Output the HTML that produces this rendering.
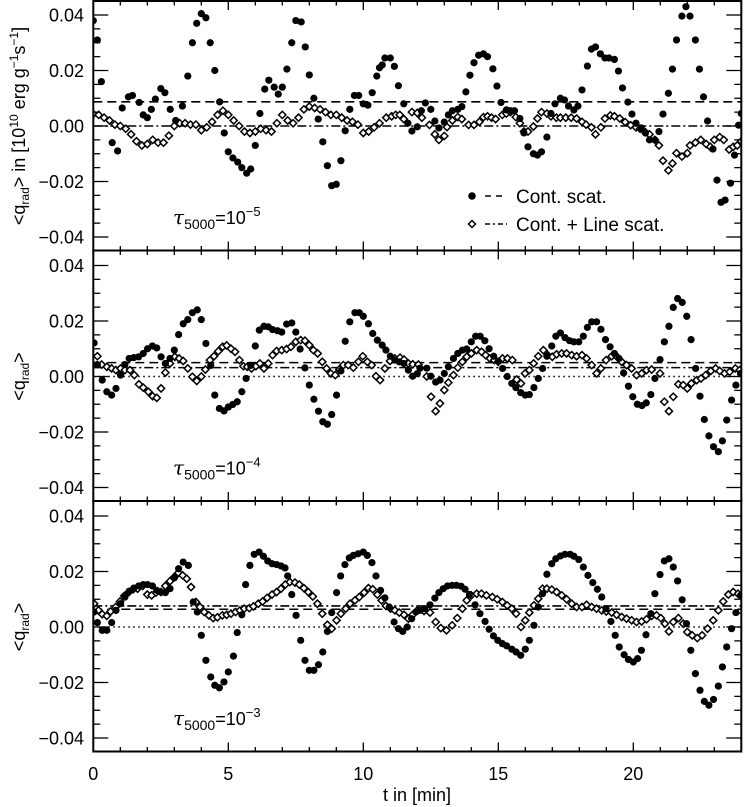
<!DOCTYPE html>
<html><head><meta charset="utf-8"><style>
html,body{margin:0;padding:0;background:#fff;}
svg{display:block;font-family:"Liberation Sans",sans-serif;}
</style></head><body>
<svg id="chart" width="747" height="807" viewBox="0 0 747 807" xmlns="http://www.w3.org/2000/svg"></svg>
<script>
// ---------- data (values in units of 1e-3 of 10^10 erg g^-1 s^-1) ----------
const xTicks = [0,5,10,15,20];
const yTicks = [0.04,0.02,0.00,-0.02,-0.04];
const yTickLabels = ["0.04","0.02","0.00","\u22120.02","\u22120.04"];
const tauExponents = ["-5","-4","-3"];

const p1DotT = [0,.15,.3,.7,.9,1.07,1.3,1.45,1.7,1.85,2.0,2.15,2.3,2.5,2.65,2.85,3.05,3.3,3.5,3.67,3.83,4.0,4.17,4.33,4.5,4.68,4.85,5.0,5.17,5.35,5.5,5.68,5.83,6.0,6.17,6.35,6.5,6.7,6.85,7.0,7.17,7.35,7.5,7.7,7.85,8.0,8.17,8.33,8.5,8.67,8.83,9.0,9.17,9.33,9.5,9.67,9.83,10.0,10.17,10.33,10.5,10.6,10.7,10.8,11.0,11.15,11.3,11.5,11.65,11.8,12.0,12.15,12.3,12.5,12.65,12.8,13.0,13.15,13.3,13.5,13.65,13.8,13.95,14.1,14.27,14.45,14.6,14.8,14.95,15.1,15.3,15.45,15.6,15.8,15.95,16.1,16.3,16.45,16.6,16.8,16.95,17.1,17.3,17.45,17.6,17.8,17.95,18.1,18.3,18.45,18.6,18.78,18.95,19.1,19.3,19.45,19.6,19.8,19.95,20.1,20.3,20.45,20.6,20.8,20.95,21.1,21.3,21.45,21.6,21.8,21.95,22.1,22.3,22.45,22.6,22.75,22.95,23.1,23.25,23.4,23.6,23.75,23.9,24.0];
const p1DotV = [38,31,16,-6,-9,6.5,10.5,11,8.5,4,3,6,9.7,13.5,12,6,2,7.2,18,30,37,40.5,39,30,20,8.7,-2.5,-9.3,-11.5,-13,-15,-17,-15.5,-7,4.5,13.3,16.5,14,11.5,14,20.5,30,38,37.5,28.5,18.4,10,2.5,-5.7,-14.3,-21.5,-21,-12.5,-1.7,6,11,11,8,7.5,12,18,21,22,24.5,24.5,21.5,14.5,8,1,-1.8,-0.3,5.5,8.3,6,1.8,-0.7,1.4,4,5.5,6,7,12.3,18.3,22.8,25.5,26,25,20.6,14.4,8.5,5.8,5.5,5.5,2.7,-2.5,-7.5,-10,-10.5,-9.3,-4,4.5,8,10,9.4,7.2,5.8,7.2,13,21.6,27.7,28.5,26,24.5,24.5,24,19.8,13.7,8.6,4.3,1,-0.7,-2.5,-5,-5,-2,4.3,11.8,20.5,31,39.6,43,39.6,31,20.5,10.5,1.8,-8.3,-19.5,-27.5,-26.7,-20.6,-10.5,0.3,4.5];

const p1DiaT = [0,.2,.4,.6,.8,1.0,1.2,1.4,1.6,1.8,2.0,2.2,2.4,2.6,2.8,3.0,3.2,3.4,3.6,3.8,4.0,4.2,4.4,4.6,4.8,5.0,5.2,5.4,5.6,5.8,6.0,6.2,6.4,6.6,6.8,7.0,7.2,7.4,7.6,7.8,8.0,8.2,8.4,8.6,8.8,9.0,9.2,9.4,9.6,9.8,10.0,10.2,10.4,10.6,10.85,11.05,11.2,11.35,11.5,11.8,12.0,12.17,12.45,12.65,12.8,13.0,13.1,13.3,13.5,13.65,13.9,14.1,14.3,14.45,14.6,14.75,14.9,15.15,15.3,15.45,15.65,15.8,15.95,16.1,16.3,16.45,16.6,16.8,16.95,17.15,17.3,17.5,17.7,17.9,18.1,18.25,18.45,18.6,18.8,18.95,19.15,19.3,19.5,19.7,19.9,20.1,20.25,20.45,20.6,20.8,20.95,21.1,21.3,21.45,21.6,21.8,22.0,22.1,22.3,22.5,22.7,22.85,23.0,23.2,23.35,23.55,23.7,23.85,24.0];
const p1DiaV = [4.3,4,3,2,0.5,0,-1,-3,-5.5,-7,-6.5,-5,-6,-6,-3.5,0,1,1,0.5,0.5,-1.5,-0.5,1.5,4,5.5,4,2,0,-2,-2.5,-2,-1,-1.5,-2,1,4,2,1,3,6,7,6.5,6,5,4,4,3,2,1.5,0.5,-2.5,-2,-0.5,1,3,3.5,4,4,2.5,5,4.7,3,0.4,-3,-5,-3.6,-0.4,2,3.2,2.5,0.4,0.4,1.5,3.2,3.5,3,2.5,4,4.5,5,3.2,1,-2,-2,-0.2,2.7,5,4.5,3.5,3,3,3,3,2.7,1.5,0.5,-0.5,-3,-0.5,2.7,3.8,3.5,2.7,1.4,0.3,-0.5,-1,-2.3,-3,-5,-7,-12.5,-16,-13.5,-9.8,-11,-9.8,-7,-6,-5,-6.5,-7.5,-5,-4,-5,-8.5,-7.5,-7,-5.5];

const p2DotT = [0.03,0.15,0.33,0.5,0.68,0.84,1.01,1.17,1.33,1.5,1.68,1.85,2.01,2.19,2.35,2.51,2.67,2.84,3.0,3.16,3.33,3.5,3.67,3.85,4.0,4.17,4.35,4.5,4.67,4.84,5.0,5.16,5.33,5.5,5.66,5.83,6.0,6.15,6.32,6.48,6.64,6.82,6.98,7.16,7.35,7.5,7.66,7.84,8.0,8.17,8.34,8.5,8.67,8.83,9.01,9.17,9.33,9.5,9.69,9.85,10.0,10.19,10.35,10.52,10.7,10.84,11.0,11.17,11.33,11.5,11.67,11.83,12.0,12.1,12.35,12.5,12.68,12.84,13.0,13.15,13.34,13.5,13.67,13.83,14.0,14.16,14.33,14.5,14.66,14.83,15.0,15.16,15.33,15.5,15.65,15.83,16.0,16.15,16.32,16.48,16.64,16.8,16.98,17.13,17.3,17.47,17.64,17.8,17.98,18.15,18.3,18.46,18.64,18.8,18.97,19.14,19.3,19.47,19.64,19.82,19.98,20.15,20.32,20.48,20.65,20.8,20.99,21.15,21.32,21.48,21.64,21.81,21.98,22.14,22.31,22.47,22.63,22.8,22.97,23.15,23.3,23.46,23.64,23.8,23.97];
const p2DotV = [12.1,4.3,-1.3,-5.5,-6.7,-4.3,0.5,4.3,6.5,6.8,7.1,8.3,10,11,10.3,7.1,4.7,6.5,9.5,15.1,19,20.5,23,24,20.5,11.9,4,-6.7,-11.5,-12.4,-11,-10.1,-9.1,-5.5,-0.7,4,11,16.7,18.1,17.9,16.9,16.5,16,18.9,19.3,16,9.9,3.1,-3.1,-8.2,-12.5,-16.3,-17.2,-13.7,-6.7,2,12.7,19.7,23,23,21.7,19,15.5,13.1,11.3,9.5,7.3,5.9,5.3,4.7,2.3,0.1,1,3,3,0.1,-2,-1.3,1.1,3.5,6.5,8.3,9.5,9.9,12.5,14.5,14.5,12.9,10,7.3,5.5,2.9,0,-2.5,-4,-5.8,-6.7,-6.5,-4,-0.7,2.9,7.3,11,14.5,15.7,14,12.9,12.5,12.5,14.5,17.7,19.7,19.7,17,13.3,10.7,8.3,6.5,1.3,-3.5,-7.3,-10,-10.5,-9.5,-6.5,-0.7,6.1,12.5,18.1,24.9,28.1,26.7,21.7,13.3,2.9,-7.1,-15.5,-21.4,-25.3,-27.1,-23.2,-15.7,-8.5,-3.1,1.1];

const p2DiaT = [0.15,0.31,0.5,0.68,0.84,1.01,1.17,1.36,1.52,1.69,1.85,2.04,2.2,2.35,2.51,2.67,2.84,3.02,3.18,3.33,3.5,3.67,3.83,4.0,4.15,4.32,4.47,4.63,4.79,4.94,5.1,5.25,5.41,5.56,5.7,5.86,6.02,6.17,6.32,6.48,6.64,6.79,6.98,7.16,7.32,7.5,7.68,7.84,8.0,8.15,8.31,8.48,8.64,8.8,8.96,9.11,9.26,9.44,9.63,9.82,9.98,10.15,10.31,10.47,10.62,10.8,10.99,11.17,11.36,11.51,11.67,11.83,12.04,12.35,12.51,12.68,12.84,13.0,13.15,13.34,13.5,13.67,13.83,14.0,14.2,14.38,14.53,14.69,14.85,15.0,15.16,15.34,15.52,15.68,15.84,15.99,16.15,16.31,16.48,16.67,16.83,17.0,17.16,17.35,17.53,17.72,17.9,18.1,18.27,18.46,18.64,18.8,18.99,19.2,19.38,19.57,19.75,19.94,20.12,20.31,20.49,20.68,20.99,21.15,21.32,21.48,21.67,21.85,22.0,22.15,22.35,22.51,22.68,22.87,23.05,23.2,23.38,23.57,23.78,23.94];
const p2DiaV = [7.3,4.3,3.5,2.9,2.3,2.9,2.3,2.3,0.5,-2.8,-4,-5.5,-7.1,-7.7,-4.3,1.4,4.7,7.1,6.5,5.6,2.9,-0.1,-1.6,0,2.5,5.9,7.3,9.1,10.7,11.2,10,8.9,5.9,3.7,3.5,2.9,3.7,4.7,2.9,4.7,7.7,9.2,9.5,9.9,10.7,12.5,13.1,12.9,11.3,9.5,8.3,5.3,2.9,1.1,0.5,2.5,4.1,4.1,3.2,5.3,7.3,5.3,4.1,0.1,-1.3,2.9,5.6,6.5,6.8,6.1,4.7,4.4,4.3,0,-7.3,-12.5,-9.7,-4.9,-2.2,0.5,3.2,5.3,7.1,8.3,9.5,8.9,7.7,6.5,5.9,5.3,6.5,6.5,5.9,-1.1,-2.5,1.1,2.3,4.7,7.3,9.5,7.7,7.1,8,8.3,8.3,7.7,7.3,7.7,6.5,4.1,1.1,2.9,5.9,7.3,7.3,5.3,4.1,2.9,0.5,1.1,2.3,2.5,1.1,-9.1,-12.5,-7.3,-2.8,-3.1,-4.3,-2.5,-1.3,-0.7,0.5,2,2.9,2,1.1,1.7,2.9,2.3];

const p3DotT = [0.03,0.15,0.33,0.5,0.68,0.84,1.01,1.17,1.33,1.5,1.68,1.85,2.01,2.19,2.35,2.51,2.67,2.84,3.0,3.16,3.33,3.52,3.7,3.85,4.0,4.17,4.35,4.5,4.67,4.84,5.0,5.19,5.33,5.5,5.64,5.8,5.96,6.14,6.3,6.46,6.62,6.79,6.95,7.1,7.2,7.35,7.51,7.68,7.84,8.0,8.17,8.34,8.5,8.67,8.83,9.01,9.16,9.32,9.48,9.63,9.81,10.0,10.15,10.32,10.47,10.64,10.8,10.96,11.14,11.3,11.46,11.63,11.79,11.95,12.1,12.28,12.47,12.65,12.8,12.96,13.12,13.29,13.45,13.62,13.77,13.93,14.14,14.32,14.51,14.66,14.82,14.98,15.15,15.31,15.5,15.66,15.83,16.0,16.15,16.32,16.48,16.64,16.8,16.98,17.13,17.3,17.47,17.66,17.8,17.98,18.15,18.32,18.5,18.67,18.83,18.99,19.17,19.33,19.48,19.66,19.82,20.0,20.16,20.3,20.47,20.65,20.8,20.99,21.15,21.32,21.48,21.64,21.81,21.97,22.13,22.3,22.47,22.63,22.8,22.97,23.15,23.3,23.46,23.64,23.8,23.97];
const p3DotV = [5.4,1.6,-1.2,-1.2,1.6,6,8.4,10.8,12.9,14,14.8,15.3,15.3,14.8,13.2,12.6,12.4,13.8,17.7,21,23.4,22.2,9,5.4,-3,-12,-18,-21,-21.9,-19.8,-16.2,-10.5,-2,4.4,15.3,22.2,26.2,27,25.5,23.8,22.8,22.5,22,21.3,18.4,11.7,4.2,-4.8,-12,-15.6,-15.6,-13.6,-9,-1.6,5.2,12.4,18.4,22.5,24.9,25.8,26.4,27,25.8,23.2,18.4,13.2,10.5,7.2,1.8,-0.6,-1.6,0,3,5.4,6,6.6,8,10.4,12.4,13.8,14.8,15,15,14.7,13.6,11.7,8,4.8,2,-0.8,-3.2,-4.8,-6,-6.8,-8,-9,-10.2,-8,-4.8,0.6,7.2,12,19,22.8,24.6,25.6,26.2,26.2,25.5,24.3,21.6,18.6,16,13.6,10.8,6.6,2,-3,-7.2,-10,-11.7,-12.6,-11.4,-8.4,-2.8,4.8,12,18.9,23.8,24.6,21.6,16.6,9.8,1.2,-8.4,-16.8,-22.8,-26.8,-28.2,-26.1,-21.3,-14.4,-7.2,-0.6,5.2,11.4];

const p3DiaT = [0.03,0.19,0.33,0.5,0.64,0.83,0.99,1.15,1.32,1.48,1.64,1.83,2.0,2.16,2.32,2.51,2.67,2.84,3.0,3.15,3.31,3.46,3.62,3.8,3.95,4.11,4.28,4.44,4.6,4.78,4.94,5.1,5.27,5.43,5.59,5.78,5.93,6.11,6.27,6.44,6.62,6.79,6.95,7.11,7.28,7.47,7.63,7.8,7.96,8.13,8.3,8.48,8.67,8.83,9.01,9.17,9.35,9.51,9.69,9.85,10.03,10.19,10.35,10.52,10.68,10.84,11.01,11.17,11.33,11.51,11.67,11.83,12.0,12.25,12.47,12.68,12.87,13.08,13.29,13.48,13.67,13.83,14.0,14.2,14.38,14.56,14.78,14.96,15.15,15.33,15.5,15.66,15.84,16.0,16.15,16.32,16.48,16.64,16.8,16.98,17.16,17.35,17.53,17.72,17.9,18.1,18.27,18.46,18.64,18.83,19.0,19.2,19.38,19.57,19.75,19.94,20.12,20.31,20.49,20.68,20.86,21.02,21.17,21.32,21.48,21.67,21.85,22.0,22.18,22.37,22.55,22.75,22.96,23.15,23.33,23.52,23.7,23.88];
const p3DiaV = [8.4,6,4.6,4,5.6,7.2,9.2,11.2,12.6,13.6,13.8,14.8,11.7,11.4,12.4,12.6,14.8,16.5,18,19.5,18.6,17.4,14.4,9,7.2,5.4,4.2,3.2,3.5,4.2,4.4,4.8,5.4,6,6.6,6.8,7.4,8.4,9.2,10.5,11.7,12.6,13.8,15.3,16.2,16,15.3,14,12.6,11,8.4,4.8,0.8,-0.6,2.4,4.8,6.6,8.4,9.6,10.8,12.4,14,13.6,11.7,9.6,7.6,6.6,6,5.2,4.4,3,4.4,6,5.8,5.2,1.8,-0.4,-1.2,0.6,3.2,6.6,9.6,11.4,12,12,11.4,10.8,10,9,7.8,6.6,4.8,0,2.4,5.2,7.8,10.2,13.8,13.8,13.5,12.6,11.4,10,8.4,7.2,7.2,8,7.2,6.6,6,5.6,5.2,4.4,3.6,3,2.4,1.8,2,2.8,4,4.2,3.2,1.2,-1.6,1.8,3.2,1.2,-1.8,-3,-4,-3,-0.6,2.4,6,9.2,11.7,12.6,12];

const dashedMeans = [8.7, 5.0, 6.4];     // Cont. scat. mean
const dashDotMeans = [0.0, 3.2, 7.6];    // Cont. + Line scat. mean

// ---------- layout ----------
const svg = document.getElementById('chart');
const NS = 'http://www.w3.org/2000/svg';
const X0 = 93.3, PXM = 27.0, TMAX = 24;
const XR = X0 + TMAX*PXM;
const PANEL_H = 250.5, ZERO_OFF = 126, PXU = 2775;
function xs(t){ return X0 + t*PXM; }
function ys(p, v){ return p*PANEL_H + ZERO_OFF - v*PXU; }
function yk(p, v){ return ys(p, v/1000); }
function mk(tag, attrs, parent){
  const e = document.createElementNS(NS, tag);
  for (const k in attrs) e.setAttribute(k, attrs[k]);
  (parent||svg).appendChild(e);
  return e;
}
const panels = [
  {dotT:p1DotT, dotV:p1DotV, diaT:p1DiaT, diaV:p1DiaV, dotted:false},
  {dotT:p2DotT, dotV:p2DotV, diaT:p2DiaT, diaV:p2DiaV, dotted:true},
  {dotT:p3DotT, dotV:p3DotV, diaT:p3DiaT, diaV:p3DiaV, dotted:true}
];
const defs = mk('defs', {});
panels.forEach((P, p) => {
  const top = Math.max(1, p*PANEL_H), bot = (p+1)*PANEL_H;
  const cp = mk('clipPath', {id:'clip'+p}, defs);
  mk('rect', {x:X0, y:top, width:XR-X0, height:bot-top}, cp);
  const g = mk('g', {});
  
  
  const pg = mk('g', {'clip-path':'url(#clip'+p+')'}, g);
  if (P.dotted){
    const l = mk('line', {x1:X0, x2:XR, y1:yk(p,0), y2:yk(p,0), stroke:'#000','stroke-width':1.5,'stroke-dasharray':'1.5,3.5'}, pg);
    
    
  }
  const ld = mk('line', {x1:X0, x2:XR, y1:yk(p,dashedMeans[p]), y2:yk(p,dashedMeans[p]), stroke:'#000','stroke-width':1.6,'stroke-dasharray':'9,5'}, pg);
  
  
  const ldd = mk('line', {x1:X0, x2:XR, y1:yk(p,dashDotMeans[p]), y2:yk(p,dashDotMeans[p]), stroke:'#000','stroke-width':1.6,'stroke-dasharray':'9,3,2,3'}, pg);
  
  
  P.diaT.forEach((t,i) => {
    const x = xs(t), y = yk(p, P.diaV[i]), r = 3.6;
    const d = mk('path', {d:`M${x} ${y-r}L${x+r} ${y}L${x} ${y+r}L${x-r} ${y}Z`, fill:'#fff', stroke:'#000','stroke-width':1.5}, pg);
    
    
  });
  P.dotT.forEach((t,i) => {
    const c = mk('circle', {cx:xs(t), cy:yk(p, P.dotV[i]), r:3.6, fill:'#000'}, pg);
    
    
  });
  const fr = mk('rect', {x:X0, y:top, width:XR-X0, height:bot-top, fill:'none', stroke:'#000','stroke-width':2}, g);
  
  
  for (let t=0; t<=TMAX; t++){
    const len = (t%5===0) ? 9 : 4.5;
    mk('line', {x1:xs(t), x2:xs(t), y1:bot, y2:bot-len, stroke:'#000','stroke-width':1.3}, g);
    mk('line', {x1:xs(t), x2:xs(t), y1:top, y2:top+len, stroke:'#000','stroke-width':1.3}, g);
  }
  for (let k=-8; k<=8; k++){
    const v = k*0.005, y = ys(p, v);
    if (y < top+2 || y > bot-2) continue;
    const len = (k%4===0) ? 15 : 7;
    mk('line', {x1:X0, x2:X0+len, y1:y, y2:y, stroke:'#000','stroke-width':1.3}, g);
    mk('line', {x1:XR, x2:XR-len, y1:y, y2:y, stroke:'#000','stroke-width':1.3}, g);
  }
  yTicks.forEach((v,i) => {
    const tx = mk('text', {x:84, y:ys(p,v)+6.5, 'text-anchor':'end', 'font-size':18}, g);
    tx.textContent = yTickLabels[i];
    
    
  });
  const an = mk('text', {x:173, y:p*PANEL_H+224, 'font-size':18}, g);
  
  
  an.innerHTML = '<tspan font-family="DejaVu Serif, serif" font-style="italic" font-size="20">τ</tspan><tspan font-size="14" dy="5">5000</tspan><tspan dy="-5">=10</tspan><tspan font-size="13" dy="-8">' + tauExponents[p].replace('-','\u2212') + '</tspan>';
  const yt = mk('text', {transform:`translate(25 ${p*PANEL_H+ZERO_OFF}) rotate(-90)`, 'text-anchor':'middle', 'font-size':18}, g);
  
  
  yt.innerHTML = '&lt;q<tspan font-size="12" dy="4">rad</tspan><tspan dy="-4">&gt;</tspan>' + (p===0 ? ' in [10<tspan font-size="12" dy="-7">10</tspan><tspan dy="7"> erg g</tspan><tspan font-size="12" dy="-7">\u22121</tspan><tspan dy="7">s</tspan><tspan font-size="12" dy="-7">\u22121</tspan><tspan dy="7">]</tspan>' : '');
});
xTicks.forEach(t => {
  const tx = mk('text', {x:xs(t), y:780, 'text-anchor':'middle', 'font-size':18});
  tx.textContent = String(t);
  
  
});
const xt = mk('text', {x:417, y:801, 'text-anchor':'middle', 'font-size':18});
xt.textContent = 't in [min]';


const lg = mk('g', {});


mk('circle', {cx:472, cy:196, r:3.8, fill:'#000'}, lg);
mk('line', {x1:485, x2:507, y1:196, y2:196, stroke:'#000','stroke-width':1.6,'stroke-dasharray':'6,5'}, lg);
const l1 = mk('text', {x:516, y:203, 'font-size':19}, lg);
l1.textContent = 'Cont. scat.';


mk('path', {d:'M472 220.5L475.5 224L472 227.5L468.5 224Z', fill:'#fff', stroke:'#000','stroke-width':1.5}, lg);
mk('line', {x1:485, x2:507, y1:224, y2:224, stroke:'#000','stroke-width':1.6,'stroke-dasharray':'5,3,2,3'}, lg);
const l2 = mk('text', {x:516, y:231, 'font-size':19}, lg);
l2.textContent = 'Cont. + Line scat.';


</script>
</body></html>
